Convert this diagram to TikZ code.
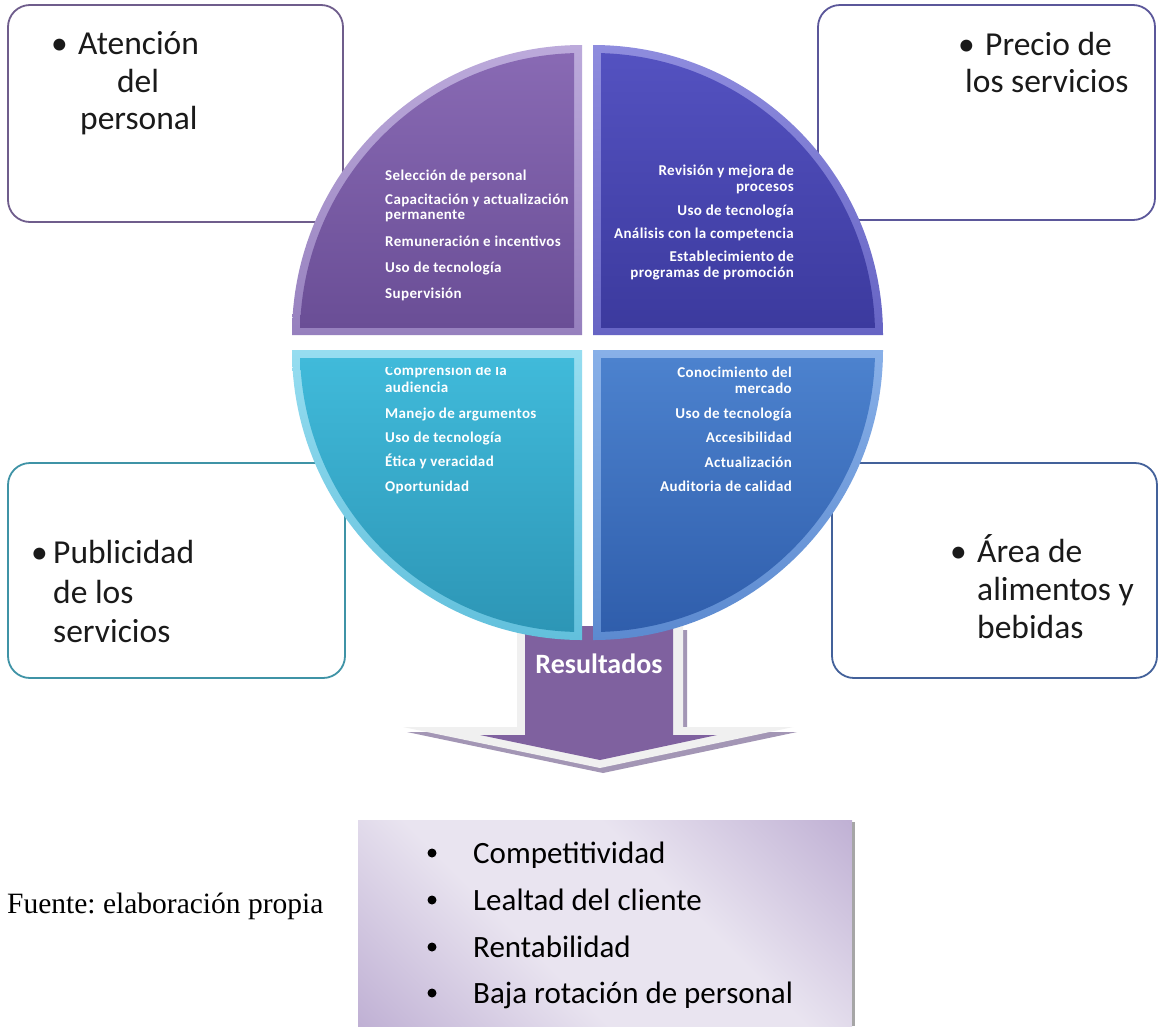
\documentclass[tikz,border=0pt]{standalone}
\usepackage{fontspec}
\setmainfont{Carlito}
\newfontfamily\tnr{Liberation Serif}
\newfontfamily\qfont[LetterSpace=2.5]{Carlito}
\definecolor{tlbord}{HTML}{6F5D8C}
\definecolor{trbord}{HTML}{5B579A}
\definecolor{blbord}{HTML}{3F93A6}
\definecolor{brbord}{HTML}{43619A}
\definecolor{tlrimt}{HTML}{BCAADB}
\definecolor{tlrimb}{HTML}{9680BE}
\definecolor{tltop}{HTML}{8A6BB5}
\definecolor{tlbot}{HTML}{6A4E96}
\definecolor{trrimt}{HTML}{8E8CDE}
\definecolor{trrimb}{HTML}{6664C4}
\definecolor{trtop}{HTML}{5553C2}
\definecolor{trbot}{HTML}{3C3A9E}
\definecolor{blrimt}{HTML}{96DDF0}
\definecolor{blrimb}{HTML}{62C0DC}
\definecolor{bltop}{HTML}{40BADA}
\definecolor{blbot}{HTML}{2C94B4}
\definecolor{brrimt}{HTML}{88B0E8}
\definecolor{brrimb}{HTML}{5C8AD0}
\definecolor{brtop}{HTML}{4C82CE}
\definecolor{brbot}{HTML}{2E5CAA}
\definecolor{arrpurple}{HTML}{7F619F}
\definecolor{arrlight}{HTML}{F0F0F0}
\definecolor{arrshadow}{HTML}{A396B5}
\definecolor{pdark}{HTML}{A893C4}
\definecolor{plight}{HTML}{E9E4F0}
\definecolor{txtdark}{HTML}{1A1A1A}
\pgfdeclarehorizontalshading{resbox}{100bp}{color(0bp)=(pdark); color(40bp)=(plight); color(60bp)=(plight); color(100bp)=(pdark)}
\begin{document}
\begin{tikzpicture}[x=1pt,y=-1pt,
  cbox/.style={line width=1.8pt, rounded corners=22pt, fill=white},
  ctext/.style={font=\fontsize{33.5}{38}\selectfont, text=txtdark, inner sep=0pt, anchor=base west},
  qtext/.style={font=\qfont\bfseries\fontsize{15}{15}\selectfont, text=white, inner sep=0pt},
  ql/.style={qtext, anchor=base west},
  qr/.style={qtext, anchor=base east},
  rtext/.style={font=\fontsize{31}{34}\selectfont, text=black, inner sep=0pt, anchor=base west},
  rbullet/.style={circle, fill=black, inner sep=0pt, minimum size=9pt}
]
\useasboundingbox (0,0) rectangle (1159,1026);
\fill[white] (0,0) rectangle (1159,1026);

% corner boxes
\draw[cbox, draw=tlbord] (8,5) rectangle (343,222);
\draw[cbox, draw=trbord] (818,5) rectangle (1155,220);
\draw[cbox, draw=blbord] (8,463) rectangle (345,678);
\draw[cbox, draw=brbord] (832,463) rectangle (1157,678);

% corner texts
\node[ctext] (tlb) at (51,54) {•};
\node[ctext] (tl1) at (78,54) {Atención};
\node[ctext, anchor=base] (tl2) at (138,92) {del};
\node[ctext] (tl3) at (80,129) {personal};

\node[ctext] (trb) at (958,55) {•};
\node[ctext] (tr1) at (985,55) {Precio de};
\node[ctext] (tr2) at (965,92) {los servicios};

\node[ctext] (blb) at (31,563) {•};
\node[ctext] (bl1) at (53,563) {Publicidad};
\node[ctext] (bl2) at (53,603) {de los};
\node[ctext] (bl3) at (53,642) {servicios};

\node[ctext] (brb) at (950,562) {•};
\node[ctext] (br1) at (977,562) {Área de};
\node[ctext] (br2) at (977,600) {alimentos y};
\node[ctext] (br3) at (977,638) {bebidas};

% arrow
\fill[arrshadow] (521,630) -- (687,630) -- (687,732) -- (797,732) -- (603,773) -- (407,732) -- (521,732) -- cycle;
\fill[arrlight] (517,626) -- (683,626) -- (683,727) -- (793,727) -- (600,768) -- (403,727) -- (517,727) -- cycle;
\fill[arrpurple] (525,626) -- (673,626) -- (673,735) -- (717,735) -- (600,760) -- (480,735) -- (525,735) -- cycle;
\node[font=\bfseries\fontsize{28}{30}\selectfont, text=white, inner sep=0pt, anchor=base] (res) at (599,673) {Resultados};

% quadrants
% top-left
\shade[top color=tlrimt, bottom color=tlrimb] (582,335) -- (292,335) arc[start angle=180,end angle=270,radius=290] -- cycle;
\begin{scope}
\clip (582,335) circle[radius=282];
\shade[top color=tltop, bottom color=tlbot] (282,40) rectangle (574,327);
\end{scope}
% top-right
\shade[top color=trrimt, bottom color=trrimb] (593,335) -- (593,45) arc[start angle=270,end angle=360,radius=290] -- cycle;
\begin{scope}
\clip (593,335) circle[radius=282];
\shade[top color=trtop, bottom color=trbot] (601,40) rectangle (893,327);
\end{scope}
% bottom-left
\shade[top color=blrimt, bottom color=blrimb] (582,350) -- (582,640) arc[start angle=90,end angle=180,radius=290] -- cycle;
\begin{scope}
\clip (582,350) circle[radius=282];
\shade[top color=bltop, bottom color=blbot] (282,358) rectangle (574,645);
\end{scope}
% bottom-right
\shade[top color=brrimt, bottom color=brrimb] (593,350) -- (883,350) arc[start angle=0,end angle=90,radius=290] -- cycle;
\begin{scope}
\clip (593,350) circle[radius=282];
\shade[top color=brtop, bottom color=brbot] (601,358) rectangle (893,645);
\end{scope}

% quadrant texts
\node[ql] (q11) at (385,180) {Selección de personal};
\node[ql] (q12) at (385,204) {Capacitación y actualización};
\node[ql] (q13) at (385,219) {permanente};
\node[ql] (q14) at (385,246) {Remuneración e incentivos};
\node[ql] (q15) at (385,272) {Uso de tecnología};
\node[ql] (q16) at (385,298) {Supervisión};

\node[qr] (q21) at (794,175) {Revisión y mejora de};
\node[qr] (q22) at (794,191) {procesos};
\node[qr] (q23) at (794,215) {Uso de tecnología};
\node[qr] (q24) at (794,238) {Análisis con la competencia};
\node[qr] (q25) at (794,261) {Establecimiento de};
\node[qr] (q26) at (794,277) {programas de promoción};

\begin{scope}
\clip (380,367) rectangle (600,400);
\node[ql] (q31) at (385,375) {Comprensión de la};
\end{scope}
\node[ql] (q32) at (385,392) {audiencia};
\node[ql] (q33) at (385,418) {Manejo de argumentos};
\node[ql] (q34) at (385,442) {Uso de tecnología};
\node[ql] (q35) at (385,466) {Ética y veracidad};
\node[ql] (q36) at (385,491) {Oportunidad};

\node[qr] (q41) at (792,377) {Conocimiento del};
\node[qr] (q42) at (792,393) {mercado};
\node[qr] (q43) at (792,418) {Uso de tecnología};
\node[qr] (q44) at (792,442) {Accesibilidad};
\node[qr] (q45) at (792,467) {Actualización};
\node[qr] (q46) at (792,491) {Auditoria de calidad};

% results box
\shade[shading=resbox, shading angle=45] (358,820) rectangle (852,1026);
\fill[black!35] (852,822) rectangle (855,1026);
\node[rbullet] (rb1) at (432,853) {};
\node[rtext] (r1) at (473,863) {Competitividad};
\node[rbullet] (rb2) at (432,900) {};
\node[rtext] (r2) at (473,910) {Lealtad del cliente};
\node[rbullet] (rb3) at (432,947) {};
\node[rtext] (r3) at (473,957) {Rentabilidad};
\node[rbullet] (rb4) at (432,993) {};
\node[rtext] (r4) at (473,1003) {Baja rotación de personal};

\node[font=\tnr\frenchspacing\fontsize{29.5}{31}\selectfont, text=black, inner sep=0pt, anchor=base west] (fuente) at (7,913) {Fuente: elaboración propia};
\end{tikzpicture}
\end{document}
